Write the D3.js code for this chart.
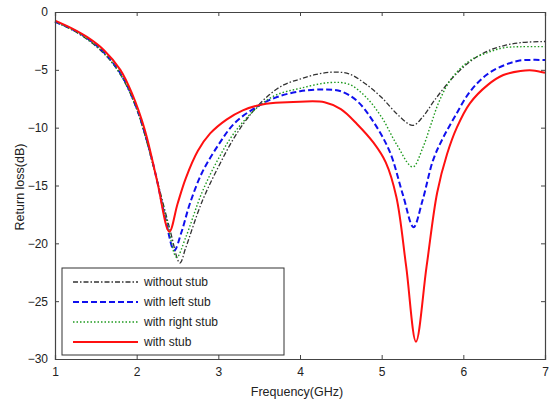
<!DOCTYPE html>
<html>
<head>
<meta charset="utf-8">
<script src="https://cdn.jsdelivr.net/npm/d3@7"></script>
<style>
  body { margin: 0; background: #fff; }
  text { font-family: "Liberation Sans", Arial, sans-serif; }
</style>
</head>
<body>
<svg id="chart"></svg>
<script>
// values (frequency in GHz, return loss in dB)
const withoutStub = [
  [1.0,-0.85],[1.2,-1.5],[1.4,-2.4],[1.6,-3.6],[1.8,-5.4],[2.0,-8.4],[2.2,-13.2],
  [2.4,-18.6],[2.53,-21.7],[2.6,-20.4],[2.8,-16.4],[3.0,-13.4],[3.2,-10.8],[3.4,-8.8],
  [3.6,-7.3],[3.8,-6.3],[4.0,-5.8],[4.2,-5.4],[4.4,-5.2],[4.6,-5.35],[4.8,-6.2],
  [5.0,-7.4],[5.2,-8.9],[5.38,-9.8],[5.5,-9.1],[5.65,-7.6],[5.88,-5.6],[6.08,-4.3],
  [6.29,-3.4],[6.5,-2.9],[6.7,-2.65],[7.0,-2.55]
];
const withLeftStub = [
  [1.0,-0.85],[1.2,-1.45],[1.4,-2.3],[1.6,-3.5],[1.8,-5.3],[2.0,-8.3],[2.2,-13.1],
  [2.35,-17.8],[2.46,-20.6],[2.55,-19.0],[2.65,-16.6],[2.8,-13.9],[3.0,-11.5],
  [3.2,-9.6],[3.47,-8.2],[3.7,-7.4],[4.0,-6.85],[4.3,-6.7],[4.5,-6.85],[4.7,-7.7],
  [4.9,-9.5],[5.1,-12.1],[5.26,-15.8],[5.39,-18.6],[5.5,-16.3],[5.63,-12.8],
  [5.75,-10.9],[5.9,-9.0],[6.08,-6.9],[6.29,-5.4],[6.5,-4.6],[6.69,-4.2],[7.0,-4.15]
];
const withRightStub = [
  [1.0,-0.85],[1.2,-1.5],[1.4,-2.35],[1.6,-3.55],[1.8,-5.35],[2.0,-8.35],[2.2,-13.2],
  [2.38,-18.4],[2.49,-21.2],[2.6,-19.5],[2.8,-15.6],[3.0,-12.7],[3.2,-10.4],
  [3.47,-8.3],[3.7,-7.2],[4.0,-6.6],[4.37,-6.1],[4.6,-6.25],[4.8,-7.3],[5.0,-9.1],
  [5.18,-11.4],[5.38,-13.4],[5.5,-11.8],[5.6,-9.8],[5.7,-7.8],[5.85,-5.8],
  [6.08,-4.2],[6.3,-3.5],[6.49,-3.1],[6.7,-3.0],[7.0,-3.0]
];
const withStub = [
  [1.0,-0.75],[1.2,-1.4],[1.4,-2.2],[1.6,-3.3],[1.8,-5.0],[1.94,-7.0],
  [2.1,-10.2],[2.25,-14.6],[2.4,-19.0],[2.5,-16.6],[2.6,-14.4],
  [2.75,-12.0],[2.9,-10.5],[3.1,-9.3],[3.3,-8.5],[3.5,-8.05],[3.7,-7.85],[4.0,-7.75],
  [4.3,-7.8],[4.5,-8.4],[4.7,-9.7],[4.9,-11.3],[5.05,-13.0],[5.18,-16.0],
  [5.3,-22.0],[5.42,-28.5],[5.55,-22.0],[5.68,-15.6],
  [5.8,-12.3],[5.92,-10.0],[6.08,-7.9],[6.3,-6.3],[6.49,-5.45],
  [6.7,-5.1],[6.85,-5.05],[7.0,-5.25]
];
const seriesNames = ["without stub", "with left stub", "with right stub", "with stub"];
const xTicks = [1, 2, 3, 4, 5, 6, 7];
const yTicks = [0, -5, -10, -15, -20, -25, -30];

const width = 557, height = 408;
const margin = { top: 12, right: 12, bottom: 49, left: 55 };
const w = width - margin.left - margin.right;
const h = height - margin.top - margin.bottom;

const svg = d3.select("#chart").attr("width", width).attr("height", height);
const g = svg.append("g").attr("transform", "translate(" + margin.left + "," + margin.top + ")");

const x = d3.scaleLinear().domain([1, 7]).range([0, w]);
const y = d3.scaleLinear().domain([-30, 0]).range([h, 0]);

// styles per series
const styles = [
  { data: withoutStub, color: "#333333", dash: "5,2,1.5,2", width: 1.3 },
  { data: withLeftStub, color: "#1010ee", dash: "6,3", width: 2 },
  { data: withRightStub, color: "#1f9a1f", dash: "1.5,2", width: 1.4 },
  { data: withStub, color: "#ff1010", dash: null, width: 2 }
];

const line = d3.line()
  .x(d => x(d[0]))
  .y(d => y(d[1]))
  .curve(d3.curveCatmullRom.alpha(0.5));

styles.forEach(s => {
  g.append("path")
    .datum(s.data)
    .attr("fill", "none")
    .attr("stroke", s.color)
    .attr("stroke-width", s.width)
    .attr("stroke-dasharray", s.dash)
    .attr("stroke-linejoin", "round")
    .attr("d", line);
});

// axes, ticks pointing inward (matlab style)
const axisColor = "#444";
const xb = g.append("g").attr("transform", "translate(0," + h + ")")
  .call(d3.axisBottom(x).tickValues(xTicks).tickSize(-4).tickPadding(8).tickFormat(d3.format("d")));
const xt = g.append("g").call(d3.axisTop(x).tickValues(xTicks).tickSize(-4).tickFormat(""));
const yl = g.append("g")
  .call(d3.axisLeft(y).tickValues(yTicks).tickSize(-4).tickPadding(7).tickFormat(d3.format("d")));
const yr = g.append("g").attr("transform", "translate(" + w + ",0)")
  .call(d3.axisRight(y).tickValues(yTicks).tickSize(-4).tickFormat(""));

[xb, xt, yl, yr].forEach(a => {
  a.select(".domain").attr("stroke", axisColor).attr("stroke-width", 1.2);
  a.selectAll(".tick line").attr("stroke", axisColor);
  a.selectAll("text").attr("fill", "#222").style("font-size", "12px")
    .style("font-family", "'Liberation Sans', Arial, sans-serif");
});

// axis labels
svg.append("text")
  .attr("x", 297)
  .attr("y", 396)
  .attr("text-anchor", "middle")
  .style("font-size", "12.5px")
  .attr("fill", "#222")
  .text("Frequency(GHz)");

svg.append("text")
  .attr("transform", "translate(24,187) rotate(-90)")
  .attr("text-anchor", "middle")
  .style("font-size", "12.5px")
  .attr("fill", "#222")
  .text("Return loss(dB)");

// legend
const legend = svg.append("g").attr("transform", "translate(62,268)");
legend.append("rect")
  .attr("width", 222).attr("height", 87)
  .attr("fill", "#fff").attr("stroke", "#333").attr("stroke-width", 1);

styles.forEach((s, i) => {
  const yy = 14 + i * 20;
  legend.append("line")
    .attr("x1", 11).attr("x2", 76).attr("y1", yy).attr("y2", yy)
    .attr("stroke", s.color).attr("stroke-width", s.width)
    .attr("stroke-dasharray", s.dash);
  legend.append("text")
    .attr("x", 82).attr("y", yy + 4)
    .style("font-size", "12px")
    .attr("fill", "#222")
    .text(seriesNames[i]);
});
</script>
</body>
</html>
